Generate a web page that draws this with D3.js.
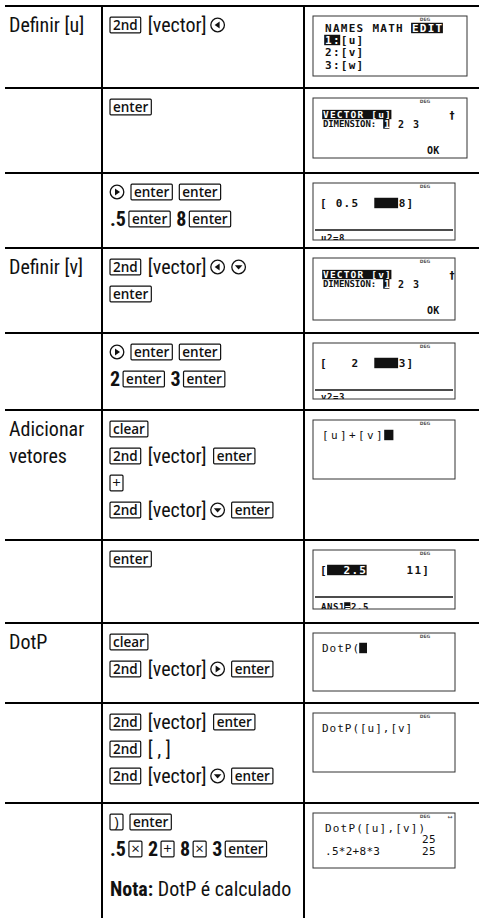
<!DOCTYPE html>
<html><head><meta charset="utf-8">
<script src="https://cdn.jsdelivr.net/npm/d3@7"></script>
<style>
body{margin:0;background:#fff}
svg{display:block}
text{white-space:pre}
.nar{font-family:"Liberation Sans Narrow","Arial Narrow","Roboto Condensed",sans-serif;font-size:20px;fill:#111}
.key{font-family:"Open Sans","Noto Sans",sans-serif;font-weight:600;font-size:13.5px;fill:#111}
.mono{font-family:"DejaVu Sans Mono",monospace;fill:#111}
</style>
</head><body><div id="chart"></div>
<script>
// ---- data ----
const rowLabels = [["Definir [u]"],[],[],["Definir [v]"],[],["Adicionar","vetores"],[],["DotP"],[],[]];
const rowSteps = [
  [["k:2nd","t:[vector]","a:left"]],
  [["k:enter"]],
  [["a:right","k:enter","k:enter"],["b:.5","k:enter","b:8","k:enter"]],
  [["k:2nd","t:[vector]","a:left","a:down"],["k:enter"]],
  [["a:right","k:enter","k:enter"],["b:2","k:enter","b:3","k:enter"]],
  [["k:clear"],["k:2nd","t:[vector]","k:enter"],["k:+"],["k:2nd","t:[vector]","a:down","k:enter"]],
  [["k:enter"]],
  [["k:clear"],["k:2nd","t:[vector]","a:right","k:enter"]],
  [["k:2nd","t:[vector]","k:enter"],["k:2nd","t:[ , ]"],["k:2nd","t:[vector]","a:down","k:enter"]],
  [["k:)","k:enter"],["b:.5","k:×","b:2","k:+","b:8","k:×","b:3","k:enter"],[],["n:Nota:","t: DotP é calculado"]]
];
const screenKinds = ["menu","dim","edit","dim","edit","home","edit","home","home","result"];
const screenLines = [
  ["NAMES MATH {EDIT}","{1:}[u]","2:[v]","3:[w]"],
  ["{VECTOR [u]}","DIMENSION:","1","2","3","OK"],
  ["[ 0.5  {   }8]","u2=8"],
  ["{VECTOR [v]}","DIMENSION:","1","2","3","OK"],
  ["[   2  {   }3]","v2=3"],
  ["[u]+[v]{ }"],
  ["[{  2.5}     11]","ANS1{=}2.5"],
  ["DotP({ }"],
  ["DotP([u],[v]"],
  ["DotP([u],[v])","25",".5*2+8*3","25"]
];

// ---- layout ----
const W = 479, H = 918;
const rowTops = [6, 88, 173, 248, 333, 410, 540, 623, 703, 803];
const screenH = [60, 60, 57, 62, 56, 59, 59, 58, 59, 55];
const colX = [5, 102, 304];
const lineGap = 27;

const svg = d3.select("#chart").append("svg").attr("width", W).attr("height", H);
svg.append("rect").attr("width", W).attr("height", H).attr("fill", "#fff");

const yRow = d3.scaleOrdinal().domain(d3.range(rowTops.length)).range(rowTops);

// grid
svg.append("g").selectAll("line").data(rowTops).join("line")
  .attr("x1", colX[0]).attr("x2", W).attr("y1", d => d).attr("y2", d => d)
  .attr("stroke", "#000").attr("stroke-width", 2);
svg.append("g").selectAll("line").data(colX.slice(1)).join("line")
  .attr("x1", d => d).attr("x2", d => d).attr("y1", rowTops[0] - 1).attr("y2", H)
  .attr("stroke", "#000").attr("stroke-width", 2);

// labels
rowLabels.forEach((lines, i) => {
  lines.forEach((s, j) => {
    svg.append("text").attr("class", "nar").attr("x", 9)
      .attr("y", yRow(i) + 26 + j * lineGap).text(s);
  });
});

// steps
function arrow(g, x, cy, dir) {
  g.append("circle").attr("cx", x + 7).attr("cy", cy).attr("r", 6.8)
    .attr("fill", "none").attr("stroke", "#111").attr("stroke-width", 1.3);
  let p;
  const c = x + 7;
  if (dir === "left") p = [[c - 3, cy], [c + 2, cy - 3.6], [c + 2, cy + 3.6]];
  else if (dir === "right") p = [[c + 3, cy], [c - 2, cy - 3.6], [c - 2, cy + 3.6]];
  else p = [[c - 3.8, cy - 1.8], [c + 3.8, cy - 1.8], [c, cy + 2.6]];
  g.append("path").attr("d", "M" + p.map(q => q.join(",")).join("L") + "Z").attr("fill", "#111");
  return 14;
}
function key(g, x, cy, label) {
  const single = label.length === 1;
  const t = g.append("text").attr("class", "key").attr("y", cy + (single ? 5.2 : 4.8)).text(label);
  if (single) t.style("font-weight", 400).style("font-size", "15px");
  const tw = t.node().getComputedTextLength();
  const w = single ? 13 : tw + 6;
  t.attr("x", x + (w - tw) / 2);
  g.insert("rect", "text").attr("x", x).attr("y", cy - 7.8).attr("width", w).attr("height", 15.6)
    .attr("fill", "#fff").attr("stroke", "#111").attr("stroke-width", 1.2).attr("rx", 1);
  return w;
}
function txt(g, x, cy, s, bold) {
  const t = g.append("text").attr("class", "nar").attr("x", x).attr("y", cy + 7).text(s);
  if (bold) t.style("font-weight", 700);
  return t.node().getComputedTextLength();
}
rowSteps.forEach((lines, i) => {
  let cy = yRow(i) + 19;
  lines.forEach(tokens => {
    if (!tokens.length) { cy += 13; return; }
    const g = svg.append("g");
    let x = 110, prev = null;
    tokens.forEach(tok => {
      const type = tok[0], val = tok.slice(2);
      if (prev) {
        if (prev === "b" && type === "k") x += 3;
        else if (prev === "k" && type === "b") x += 6;
        else if (prev === "t" && type === "a") x += 4;
        else if (prev === "n") x += 0;
        else x += 7;
      }
      let w = 0;
      if (type === "k") w = key(g, x, cy, val);
      else if (type === "a") w = arrow(g, x, cy, val);
      else if (type === "t") w = txt(g, x, cy, val, false);
      else w = txt(g, x, cy, val, true);
      x += w; prev = type;
    });
    cy += lineGap;
  });
});

// screens
const defs = svg.append("defs");
function parseSeg(s) {
  const out = []; let cur = "", inv = false;
  for (const ch of s) {
    if (ch === "{") { if (cur) out.push({ t: cur, inv }); cur = ""; inv = true; }
    else if (ch === "}") { out.push({ t: cur, inv }); cur = ""; inv = false; }
    else cur += ch;
  }
  if (cur) out.push({ t: cur, inv });
  return out;
}
function mono(g, x, base, s, fs, adv, opt = {}) {
  const cap = fs * 0.73;
  let i = 0;
  parseSeg(s).forEach(seg => {
    const sx = x + i * adv;
    if (seg.inv) {
      g.append("rect").attr("x", sx - 0.8).attr("y", base - cap - 1.2)
        .attr("width", seg.t.length * adv + 0.2).attr("height", cap + 2.4).attr("fill", "#111");
    }
    g.append("text").attr("class", "mono").attr("x", sx).attr("y", base)
      .style("font-size", fs + "px").style("letter-spacing", (adv - fs * 0.602) + "px")
      .style("font-weight", opt.bold ? 700 : 400)
      .style("fill", seg.inv ? "#fff" : "#111")
      .text(seg.t);
    i += seg.t.length;
  });
}
screenKinds.forEach((kind, i) => {
  const T = yRow(i) + 10, X = 313, w = i < 2 ? 154 : 142, h = screenH[i];
  const lines = screenLines[i];
  defs.append("clipPath").attr("id", "clip" + i).append("rect")
    .attr("x", X).attr("y", T).attr("width", w).attr("height", h);
  svg.append("rect").attr("x", X).attr("y", T).attr("width", w).attr("height", h)
    .attr("fill", "#fff").attr("stroke", "#333").attr("stroke-width", 1);
  const g = svg.append("g").attr("clip-path", "url(#clip" + i + ")");
  g.append("text").attr("x", 425).attr("y", T + 5).attr("text-anchor", "middle")
    .style("font-family", "DejaVu Sans").style("font-size", "4.5px").style("font-weight", 700)
    .style("fill", "#555").text("DEG");
  if (kind === "menu") {
    mono(g, 325, T + 16, lines[0], 11, 7.9, { bold: true });
    mono(g, 325, T + 28, lines[1], 11, 7.9, { bold: true });
    mono(g, 325, T + 40, lines[2], 11, 7.9, { bold: true });
    mono(g, 325, T + 53, lines[3], 11, 7.9, { bold: true });
  } else if (kind === "dim") {
    mono(g, 323, T + 20, lines[0], 9.5, 6.9, { bold: true });
    mono(g, 323, T + 29, lines[1], 9, 5.3, { bold: true });
    mono(g, 384, T + 29.5, "{" + lines[2] + "}", 10, 6, { bold: true });
    mono(g, 398, T + 29.5, lines[3], 10, 6, { bold: true });
    mono(g, 413, T + 29.5, lines[4], 10, 6, { bold: true });
    g.append("text").attr("x", 452).attr("y", T + 21).attr("text-anchor", "middle")
      .style("font-family", "DejaVu Sans").style("font-size", "10px").style("font-weight", 700)
      .style("fill", "#111").text("†");
    mono(g, 427, T + 56, lines[5], 10, 6.2, { bold: true });
  } else if (kind === "edit") {
    mono(g, 320, T + 24, lines[0], 11, 7.87, { bold: true });
    g.append("line").attr("x1", X + 2).attr("x2", X + w - 2).attr("y1", T + 47).attr("y2", T + 47)
      .attr("stroke", "#111").attr("stroke-width", 1.3);
    mono(g, 321, T + h + 1, lines[1], 9, 6, { bold: true });
  } else if (kind === "home") {
    const adv = lines[0].startsWith("[") ? 9 : 7.6;
    mono(g, 322, T + 19, lines[0], 11, adv);
  } else {
    mono(g, 325, T + 19, lines[0], 11, 7.8);
    mono(g, 422, T + 30, lines[1], 11, 7);
    mono(g, 325, T + 42, lines[2], 11, 6.9);
    mono(g, 422, T + 42, lines[3], 11, 7);
    g.append("text").attr("x", 450).attr("y", T + 6).attr("text-anchor", "middle")
      .style("font-family", "DejaVu Sans").style("font-size", "6px").style("fill", "#444").text("↔");
  }
});
</script>
</body></html>
